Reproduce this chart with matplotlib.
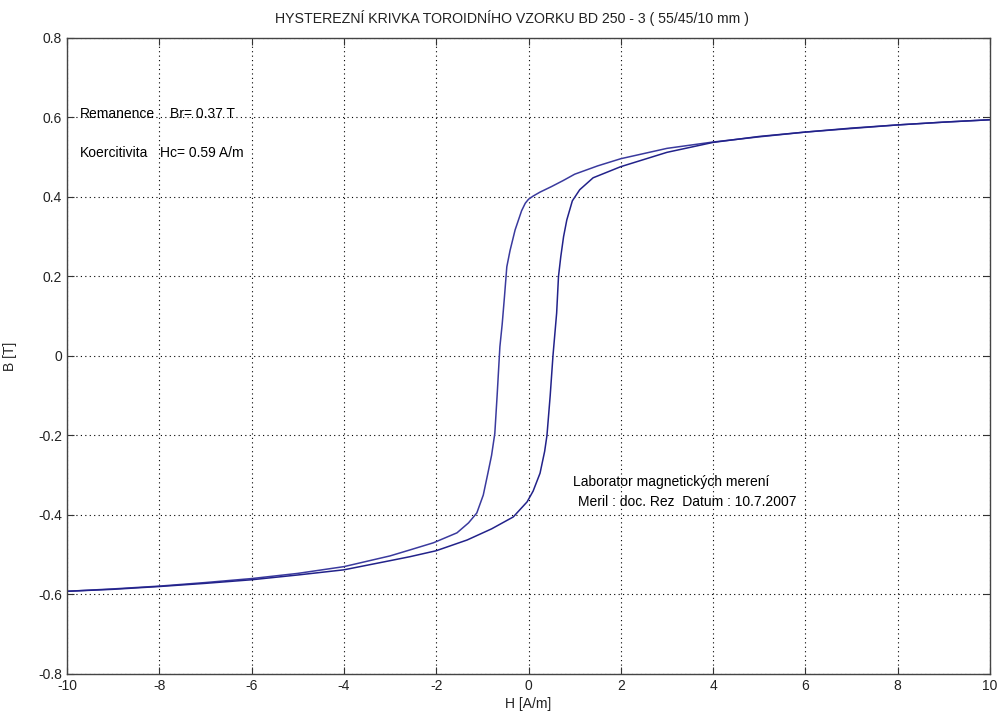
import matplotlib
matplotlib.use('Agg')
import matplotlib.pyplot as plt  # NOQA
import numpy as np               # NOQA

plt.rcParams['font.family'] = ['Liberation Sans', 'DejaVu Sans']
plt.rcParams['axes.unicode_minus'] = False

# descending branch, H from +10 down to -10
H_down = [10, 9, 8, 7, 6, 5, 4, 3, 2, 1.5, 1.0, 0.75, 0.5, 0.25, 0.1,
          0.0, -0.07, -0.15, -0.29, -0.4, -0.47, -0.52, -0.57, -0.62,
          -0.68, -0.73, -0.8, -0.88, -0.98, -1.12, -1.3, -1.55, -2.06,
          -2.57, -3, -4, -5, -6, -7, -8, -9, -10]
B_down = [0.594, 0.588, 0.581, 0.572, 0.563, 0.551, 0.538, 0.522, 0.496,
          0.478, 0.457, 0.441, 0.426, 0.412, 0.402,
          0.394, 0.384, 0.365, 0.317, 0.265, 0.224, 0.15, 0.08, 0.023,
          -0.1, -0.195, -0.25, -0.295, -0.35, -0.395, -0.42, -0.445,
          -0.47, -0.488, -0.503, -0.53, -0.547, -0.56, -0.57, -0.579,
          -0.586, -0.592]

# ascending branch, H from -10 up to +10
H_up = [-10, -9, -8, -7, -6, -5, -4, -3, -2.57, -2, -1.33, -0.8, -0.33,
        -0.03, 0.1, 0.25, 0.35, 0.4, 0.47, 0.53, 0.61, 0.65, 0.7, 0.76,
        0.83, 0.95, 1.11, 1.4, 2, 3, 4, 5, 6, 7, 8, 9, 10]
B_up = [-0.592, -0.587, -0.58, -0.572, -0.563, -0.551, -0.538, -0.515,
        -0.505, -0.49, -0.463, -0.435, -0.405, -0.367, -0.34, -0.295,
        -0.24, -0.2, -0.1, 0.0, 0.108, 0.2, 0.25, 0.3, 0.342, 0.39,
        0.418, 0.448, 0.476, 0.512, 0.537, 0.552, 0.563, 0.573, 0.581,
        0.588, 0.594]

TITLE = u'HYSTEREZN\u00cd KRIVKA TOROIDN\u00cdHO VZORKU BD 250 - 3 ( 55/45/10 mm )'

fig = plt.figure(figsize=(10, 7.18), dpi=100)
ax = fig.add_axes([0.067, 0.0613, 0.923, 0.886])

ax.plot(H_down, B_down, color='#3a3a9e', linewidth=1.1)
ax.plot(H_up, B_up, color='#22228a', linewidth=1.1)

ax.set_xlim(-10, 10)
ax.set_ylim(-0.8, 0.8)
ax.set_xticks(np.arange(-10, 11, 2))
ax.set_yticks(np.round(np.arange(-0.8, 0.81, 0.2), 1))
ax.set_yticklabels(['-0.8', '-0.6', '-0.4', '-0.2', '0', '0.2', '0.4',
                    '0.6', '0.8'])
ax.grid(True, linestyle=(0, (1, 3)), color='black', linewidth=0.8)
ax.tick_params(direction='in', length=5, top=True, right=True,
               labelsize=10, colors='#333333', labelcolor='#222222')
for s in ax.spines.values():
    s.set_color('#444444')
    s.set_linewidth(1.0)

# title sits a little left of the axes centre in the original
fig.text(0.512, 0.975, TITLE, fontsize=10.2, color='#222222',
         ha='center', va='center')
ax.set_xlabel('H [A/m]', fontsize=10, color='#222222', labelpad=3)
ax.set_ylabel('B [T]', fontsize=10, color='#222222', labelpad=15)

ax.text(-9.72, 0.609, 'Remanence', fontsize=10, va='center')
ax.text(-7.77, 0.609, 'Br= 0.37 T', fontsize=10, va='center')
ax.text(-9.72, 0.51, 'Koercitivita', fontsize=10, va='center')
ax.text(-7.99, 0.51, 'Hc= 0.59 A/m', fontsize=10, va='center')
ax.text(0.97, -0.317, u'Laborator magnetick\u00fdch meren\u00ed',
        fontsize=10, va='center')
ax.text(1.08, -0.367, 'Meril : doc. Rez  Datum : 10.7.2007',
        fontsize=10, va='center')

fig.savefig('out.png', dpi=100, facecolor='white')
plt.close(fig)
